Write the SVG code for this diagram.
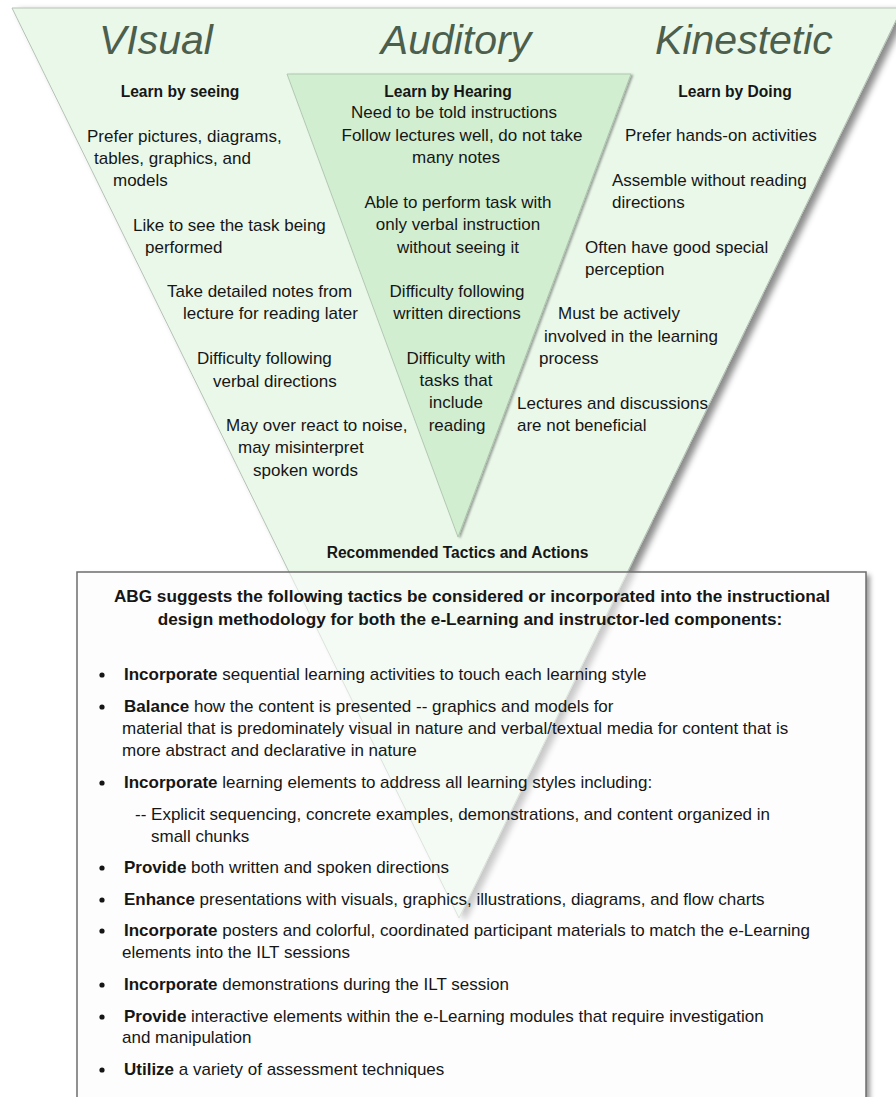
<svg xmlns="http://www.w3.org/2000/svg" width="896" height="1097" viewBox="0 0 896 1097">
<defs>
<filter id="sh" x="-10%" y="-10%" width="130%" height="130%"><feDropShadow dx="6" dy="3" stdDeviation="3" flood-color="#000" flood-opacity="0.45"/></filter>
<filter id="sh2" x="-10%" y="-10%" width="130%" height="130%"><feDropShadow dx="2" dy="1" stdDeviation="1.2" flood-color="#000" flood-opacity="0.35"/></filter>
<filter id="sh3" x="-10%" y="-10%" width="130%" height="130%"><feDropShadow dx="4" dy="3" stdDeviation="2.5" flood-color="#000" flood-opacity="0.4"/></filter>
<clipPath id="boxclip"><rect x="77" y="572" width="789" height="545"/></clipPath>
<style>
text{font-family:"Liberation Sans",Arial,sans-serif;fill:#161616;font-size:17px}
.t{font-style:italic;font-size:41px;fill:#4c5e4c;text-anchor:middle}
.h{font-weight:bold;font-size:15.6px}
.c{text-anchor:middle}
.b{font-weight:bold}
.hb{font-weight:bold;font-size:17.2px;text-anchor:middle}
</style>
</defs>
<g id="big-triangle">
<polygon id="tri" points="12,8 902,8 459,918" fill="#eaf8ea" stroke="#b5c2b5" stroke-width="1" filter="url(#sh)"/>
</g>
<g id="inner-triangle">
<polygon points="287,74 631,74 458,537" fill="#d1eed1" stroke="#a9bfa9" stroke-width="0.8" filter="url(#sh2)"/>
</g>
<g id="titles">
<text class="t" x="156" y="54">VIsual</text>
<text class="t" x="456" y="54">Auditory</text>
<text class="t" x="744" y="54">Kinestetic</text>
</g>
<g id="visual">
<text class="h c" x="180" y="97">Learn by seeing</text>
<text x="87" y="142">Prefer pictures, diagrams,</text>
<text x="94" y="164">tables, graphics, and</text>
<text x="113" y="186">models</text>
<text x="133" y="231">Like to see the task being</text>
<text x="145" y="253">performed</text>
<text x="167" y="297">Take detailed notes from</text>
<text x="183" y="319">lecture for reading later</text>
<text x="197" y="364">Difficulty following</text>
<text x="213" y="387">verbal directions</text>
<text x="226" y="431">May over react to noise,</text>
<text x="238" y="453">may misinterpret</text>
<text x="253" y="476">spoken words</text>
</g>
<g id="auditory">
<text class="h c" x="448" y="97">Learn by Hearing</text>
<text class="c" x="454" y="118">Need to be told instructions</text>
<text class="c" x="462" y="141">Follow lectures well, do not take</text>
<text class="c" x="456" y="163">many notes</text>
<text class="c" x="458" y="208">Able to perform task with</text>
<text class="c" x="458" y="230">only verbal instruction</text>
<text class="c" x="458" y="253">without seeing it</text>
<text class="c" x="457" y="297">Difficulty following</text>
<text class="c" x="457" y="319">written directions</text>
<text class="c" x="456" y="364">Difficulty with</text>
<text class="c" x="456" y="386">tasks that</text>
<text class="c" x="456" y="408">include</text>
<text class="c" x="457" y="431">reading</text>
</g>
<g id="kinestetic">
<text class="h c" x="735" y="97">Learn by Doing</text>
<text x="625" y="141">Prefer hands-on activities</text>
<text x="612" y="186">Assemble without reading</text>
<text x="612" y="208">directions</text>
<text x="585" y="253">Often have good special</text>
<text x="585" y="275">perception</text>
<text x="558" y="319">Must be actively</text>
<text x="544" y="342">involved in the learning</text>
<text x="539" y="364">process</text>
<text x="517" y="409">Lectures and discussions</text>
<text x="517" y="431">are not beneficial</text>
</g>
<g id="recommended">
<text class="h c" x="457.5" y="558">Recommended Tactics and Actions</text>
</g>
<g id="tactics-box">
<rect x="77" y="572" width="789" height="545" fill="#fdfdfd" filter="url(#sh3)"/>
<g clip-path="url(#boxclip)" opacity="0.45">
<use href="#tri"/>
</g>
<rect x="77" y="572" width="789" height="545" fill="none" stroke="#6e6e6e" stroke-width="1.5"/>
<text class="hb" x="472" y="602">ABG suggests the following tactics be considered or incorporated into the instructional</text>
<text class="hb" x="470" y="625">design methodology for both the e-Learning and instructor-led components:</text>
<g fill="#161616">
<circle cx="102" cy="675" r="2.6"/>
<circle cx="102" cy="707" r="2.6"/>
<circle cx="102" cy="783" r="2.6"/>
<circle cx="102" cy="868" r="2.6"/>
<circle cx="102" cy="900" r="2.6"/>
<circle cx="102" cy="931" r="2.6"/>
<circle cx="102" cy="985" r="2.6"/>
<circle cx="102" cy="1017" r="2.6"/>
<circle cx="102" cy="1070" r="2.6"/>
</g>
<text x="124" y="680"><tspan class="b">Incorporate</tspan> sequential learning activities to touch each learning style</text>
<text x="124" y="712"><tspan class="b">Balance</tspan> how the content is presented -- graphics and models for</text>
<text x="122" y="734">material that is predominately visual in nature and verbal/textual media for content that is</text>
<text x="122" y="756">more abstract and declarative in nature</text>
<text x="124" y="788"><tspan class="b">Incorporate</tspan> learning elements to address all learning styles including:</text>
<text x="135" y="820">-- Explicit sequencing, concrete examples, demonstrations, and content organized in</text>
<text x="151" y="842">small chunks</text>
<text x="124" y="873"><tspan class="b">Provide</tspan> both written and spoken directions</text>
<text x="124" y="905"><tspan class="b">Enhance</tspan> presentations with visuals, graphics, illustrations, diagrams, and flow charts</text>
<text x="124" y="936"><tspan class="b">Incorporate</tspan> posters and colorful, coordinated participant materials to match the e-Learning</text>
<text x="122" y="958">elements into the ILT sessions</text>
<text x="124" y="990"><tspan class="b">Incorporate</tspan> demonstrations during the ILT session</text>
<text x="124" y="1022"><tspan class="b">Provide</tspan> interactive elements within the e-Learning modules that require investigation</text>
<text x="122" y="1043">and manipulation</text>
<text x="124" y="1075"><tspan class="b">Utilize</tspan> a variety of assessment techniques</text>
</g>
</svg>
